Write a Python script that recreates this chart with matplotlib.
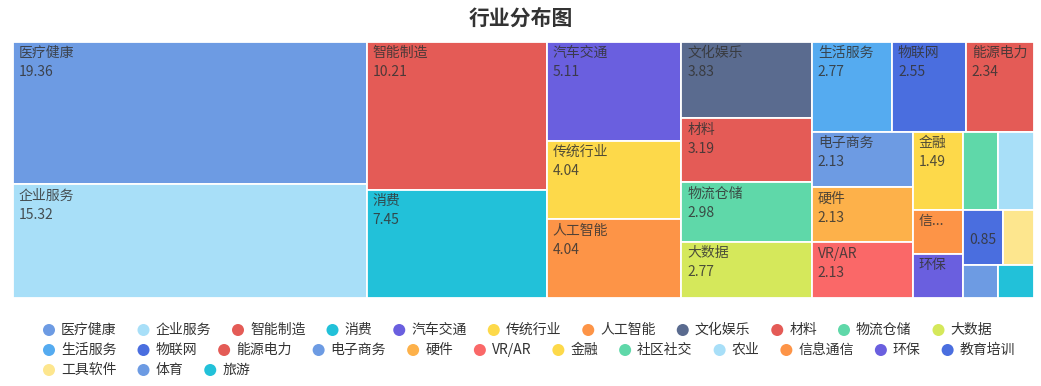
import matplotlib
matplotlib.use('Agg')
import matplotlib.pyplot as plt
from matplotlib.patches import Rectangle, Circle

plt.rcParams['font.family'] = ['Noto Sans CJK SC', 'DejaVu Sans']

# data: share of companies per industry (%)
names = ['医疗健康', '企业服务', '智能制造', '消费', '汽车交通', '传统行业', '人工智能',
         '文化娱乐', '材料', '物流仓储', '大数据', '生活服务', '物联网', '能源电力',
         '电子商务', '硬件', 'VR/AR', '金融', '社区社交', '农业', '信息通信', '环保',
         '教育培训', '工具软件', '体育', '旅游']
values = [19.36, 15.32, 10.21, 7.45, 5.11, 4.04, 4.04, 3.83, 3.19, 2.98, 2.77,
          2.77, 2.55, 2.34, 2.13, 2.13, 2.13, 1.49, 1.06, 1.06, 0.85, 0.85,
          0.85, 0.64, 0.43, 0.43]
colors = ['#6d9be3', '#a8dff8', '#e45b56', '#22c1d9', '#6a5fdf', '#fdd94a', '#fd9447',
          '#5a6b8f', '#e45b56', '#5fd8a9', '#d5e85b', '#55abf0', '#4a6edf', '#e45b56',
          '#6d9be3', '#fdb14a', '#fa6868', '#fdd94a', '#5fd8a9', '#a8dff8', '#fd9447',
          '#6a5fdf', '#4a6edf', '#fde68e', '#6d9be3', '#22c1d9']
title = '行业分布图'

W, H = 1041, 386
fig = plt.figure(figsize=(W / 100, H / 100), dpi=100)
ax = fig.add_axes([0, 0, 1, 1])
ax.set_xlim(0, W)
ax.set_ylim(H, 0)
ax.axis('off')


def worst(areas, row, row_area, fixed, ratio):
    amax = max(areas[i] for i in row)
    amin = min(areas[i] for i in row)
    sq = row_area * row_area
    f = fixed * fixed * ratio
    return max(f * amax / sq, sq / (f * amin))


def position(areas, row, row_area, fixed, rect, out, flush):
    horiz = fixed == rect[2]
    other = row_area / fixed if fixed else 0
    if horiz:
        if flush or other > rect[3]:
            other = rect[3]
        last = rect[0]
        for k, i in enumerate(row):
            step = areas[i] / other
            remain = rect[0] + rect[2] - last
            w = remain if (k == len(row) - 1 or remain < step) else step
            out[i] = (last, rect[1], w, other)
            last += w
        rect[1] += other
        rect[3] -= other
    else:
        if flush or other > rect[2]:
            other = rect[2]
        last = rect[1]
        for k, i in enumerate(row):
            step = areas[i] / other
            remain = rect[1] + rect[3] - last
            h = remain if (k == len(row) - 1 or remain < step) else step
            out[i] = (rect[0], last, other, h)
            last += h
        rect[0] += other
        rect[2] -= other


def squarify(vals, x0, y0, w, h, ratio=0.5 * (1 + 5 ** 0.5)):
    # same squarified layout as echarts treemap
    total = sum(vals)
    areas = [v * w * h / total for v in vals]
    rect = [x0, y0, w, h]
    out = [None] * len(vals)
    fixed = min(w, h)
    row, row_area, best = [], 0.0, float('inf')
    i = 0
    while i < len(vals):
        row.append(i)
        row_area += areas[i]
        score = worst(areas, row, row_area, fixed, ratio)
        if score <= best:
            i += 1
            best = score
        else:
            row.pop()
            row_area -= areas[i]
            position(areas, row, row_area, fixed, rect, out, False)
            fixed = min(rect[2], rect[3])
            row, row_area, best = [], 0.0, float('inf')
    if row:
        position(areas, row, row_area, fixed, rect, out, True)
    return out


def text_w(s):
    w = 0
    for c in s:
        if ord(c) > 255:
            w += 13.9
        elif c == '.':
            w += 3.5
        else:
            w += 7.7
    return w


def fit(s, avail):
    if text_w(s) <= avail:
        return s
    for n in range(len(s) - 1, 0, -1):
        if text_w(s[:n]) + 17 <= avail:
            return s[:n] + '...'
    return ''


rects = squarify(values, 12.5, 41.5, 1021, 256)
txt_kw = dict(fontsize=10, color='#333333', alpha=0.85, va='center', ha='left')
for name, val, col, (x, y, w, h) in zip(names, values, colors, rects):
    ax.add_patch(Rectangle((x, y), w, h, facecolor=col, edgecolor='white', lw=1.3))
    avail = w - 12
    lab = fit(name, avail)
    if lab:
        ax.text(x + 6, y + 11.5, lab, **txt_kw)
    if h >= 50:
        vs = '%.2f' % val
        if text_w(vs) <= avail + 2:
            ax.text(x + 6, y + 30.5, vs, **txt_kw)

fig.text(0.5, 1 - 18.5 / H, title, ha='center', va='center',
         fontsize=15, fontweight='bold', color='#333333')

# legend, flowing into rows
renderer = fig.canvas.get_renderer()
lx, ly = 49, 330
for name, col in zip(names, colors):
    t = ax.text(lx + 12, ly, name, fontsize=10, color='#333333', va='center', ha='left')
    tw = t.get_window_extent(renderer).width
    if lx + 12 + tw > 1036:
        lx, ly = 49, ly + 20
        t.set_position((lx + 12, ly))
    ax.add_patch(Circle((lx, ly), 6, facecolor=col, edgecolor='none'))
    lx = lx + 12 + tw + 27

fig.savefig('out.png', dpi=100)
